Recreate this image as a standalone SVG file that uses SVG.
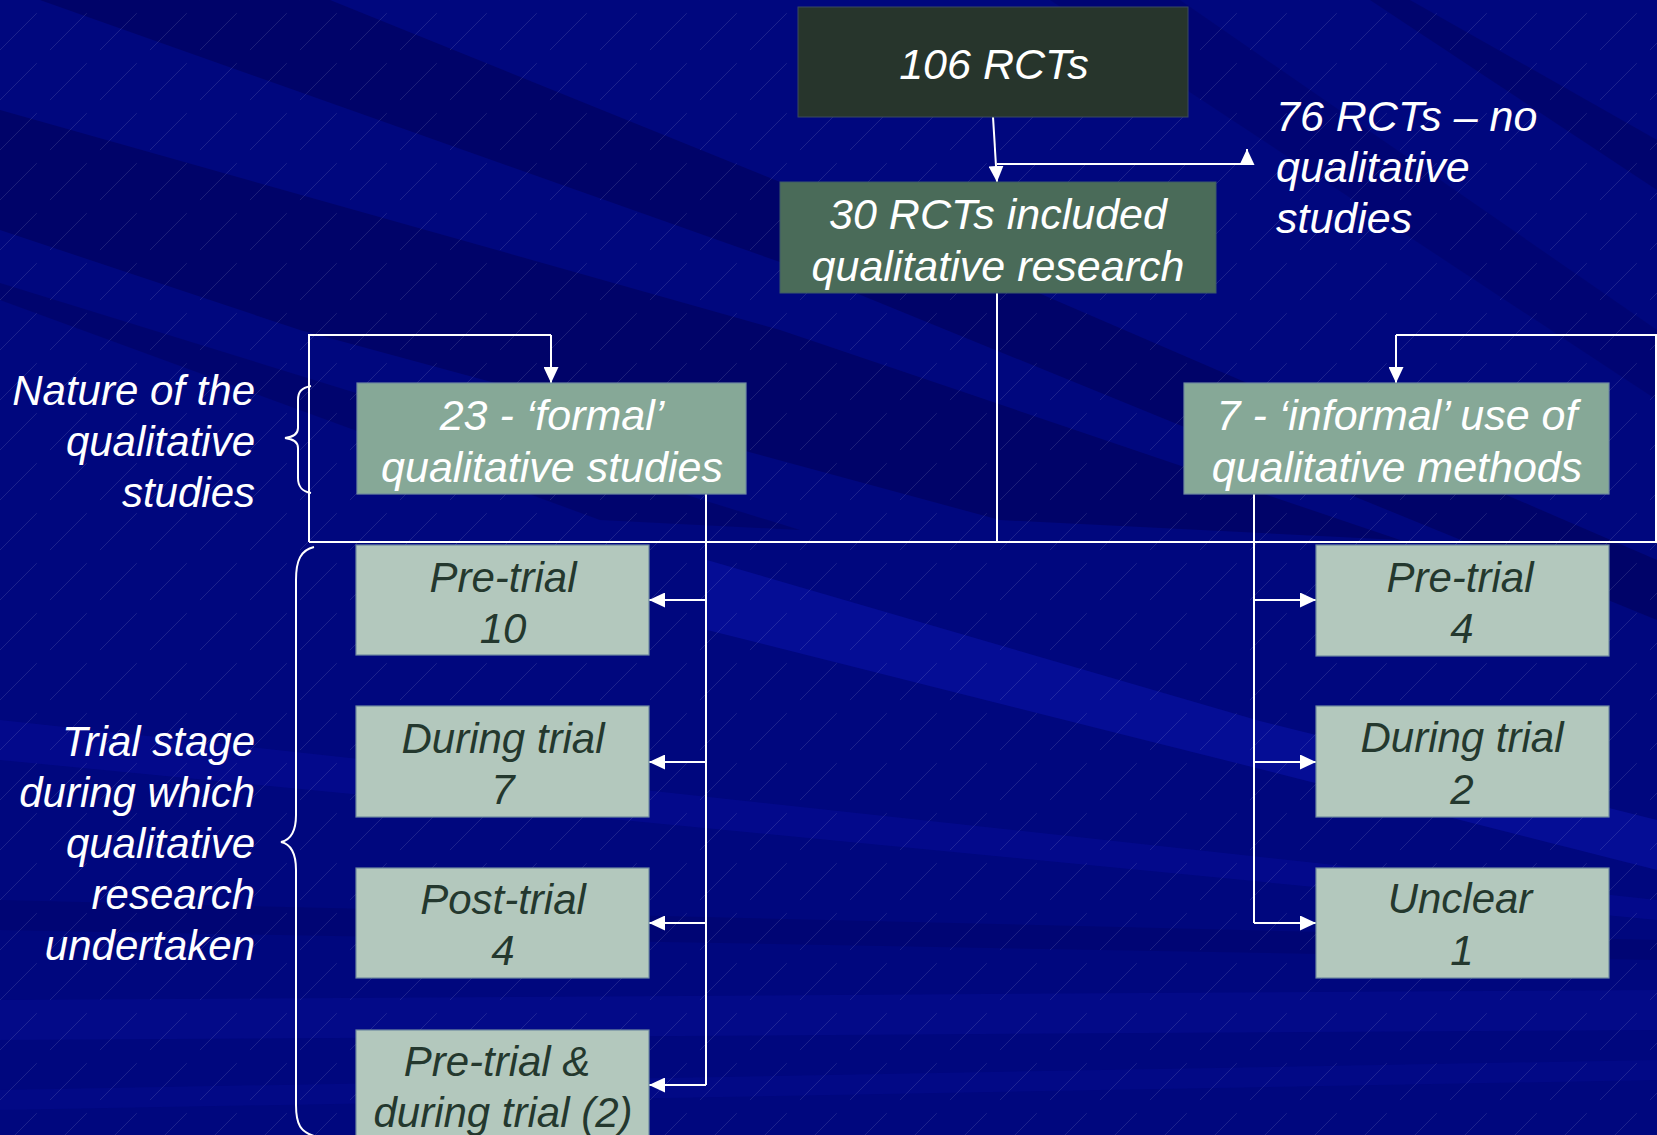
<svg xmlns="http://www.w3.org/2000/svg" width="1657" height="1135" viewBox="0 0 1657 1135">
<defs>
<style>
.t{font-family:"Liberation Sans",Arial,sans-serif;font-style:italic;font-size:42px;}
.big{font-size:43px;}
.w{fill:#ffffff;}
.d{fill:#24382e;}
.c{text-anchor:middle;}
.r{text-anchor:end;}
.ln{fill:none;stroke:#ffffff;stroke-width:2;}
.arr{fill:none;stroke:#ffffff;stroke-width:2;marker-end:url(#ah);}
.br{fill:none;stroke:#ffffff;stroke-width:2;}
.bx{stroke:#6f8aa0;stroke-width:1.2;}
.dk{fill:#000058;}
.lt{fill:#0a12a8;}
</style>
<pattern id="hatch" patternUnits="userSpaceOnUse" width="50" height="50">
<path d="M0,50 L50,0" stroke="#ffffff" stroke-opacity="0.14" stroke-width="0.8" stroke-dasharray="52 18.7"/>
</pattern>
<marker id="ah" markerUnits="userSpaceOnUse" markerWidth="16" markerHeight="15" viewBox="0 0 16 15" refX="16" refY="7.5" orient="auto">
<path d="M0,0 L16,7.5 L0,15 z" fill="#ffffff"/>
</marker>
</defs>
<g id="background">
<rect width="1657" height="1135" fill="#00077e"/>
<polygon class="dk" opacity="0.55" points="40,0 330,0 800,190 1657,560 1657,620 780,262"/>
<polygon class="dk" opacity="0.55" points="0,110 780,330 1400,540 1000,520 300,330 0,230"/>
<polygon class="dk" opacity="0.4" points="0,283 0,300 600,520 800,530"/>
<polygon class="dk" opacity="0.4" points="1370,0 1410,0 1657,140 1657,190"/>
<polygon class="dk" opacity="0.3" points="1050,0 1180,0 1657,330 1657,400"/>
<polygon class="lt" opacity="0.55" points="707,560 1260,721 1657,820 1657,870 1260,769 707,630"/>
<polygon class="lt" opacity="0.3" points="0,720 1657,900 1657,920 0,760"/>
<polygon class="dk" opacity="0.25" points="0,900 1657,940 1657,960 0,930"/>
<polygon class="lt" opacity="0.25" points="0,1000 1657,990 1657,1030 0,1040"/>
<polygon class="lt" opacity="0.2" points="0,1090 1657,1060 1657,1080 0,1110"/>
<rect width="1657" height="1135" fill="url(#hatch)"/>
</g>
<g id="connectors">
<path class="arr" d="M993,117 L997,182"/>
<path class="arr" d="M997,164 H1247 V149"/>
<path class="ln" d="M997,293 V542"/>
<path class="ln" d="M309,542 H1656 V335 H1396"/>
<path class="ln" d="M309,542 V335 H551"/>
<path class="arr" d="M551,335 V383"/>
<path class="arr" d="M1396,335 V383"/>
<path class="ln" d="M706,494 V1085"/>
<path class="arr" d="M706,600 H649"/>
<path class="arr" d="M706,762 H649"/>
<path class="arr" d="M706,923 H649"/>
<path class="arr" d="M706,1085 H649"/>
<path class="ln" d="M1254,494 V923"/>
<path class="arr" d="M1254,600 H1316"/>
<path class="arr" d="M1254,762 H1316"/>
<path class="arr" d="M1254,923 H1316"/>
</g>
<g id="brace-nature">
<path class="br" d="M311,386 C301,388 298,392 298,400 V428 C298,434 293,437 285,438 C293,439 298,442 298,448 V478 C298,486 301,491 311,493"/>
</g>
<g id="brace-stage">
<path class="br" d="M314,547 C301,550 296,560 296,580 V815 C296,832 290,840 281,842 C290,844 296,852 296,870 V1105 C296,1125 301,1132 314,1136"/>
</g>
<g id="label-nature">
<text class="t w r" x="255" y="405">Nature of the</text>
<text class="t w r" x="255" y="456">qualitative</text>
<text class="t w r" x="255" y="507">studies</text>
</g>
<g id="label-stage">
<text class="t w r" x="255" y="756">Trial stage</text>
<text class="t w r" x="255" y="807">during which</text>
<text class="t w r" x="255" y="858">qualitative</text>
<text class="t w r" x="255" y="909">research</text>
<text class="t w r" x="255" y="960">undertaken</text>
</g>
<g id="label-76">
<text class="t big w" x="1276" y="131">76 RCTs – no</text>
<text class="t big w" x="1276" y="182">qualitative</text>
<text class="t big w" x="1276" y="233">studies</text>
</g>
<g id="n106">
<rect x="798" y="7" width="390" height="110" fill="#27352c" stroke="#3a4a60" stroke-width="1"/>
<text class="t big w c" x="994" y="79">106 RCTs</text>
</g>
<g id="n30">
<rect x="780" y="182" width="436" height="111" fill="#4a6b59" stroke="#3d5a6a" stroke-width="1"/>
<text class="t big w c" x="998" y="229">30 RCTs included</text>
<text class="t big w c" x="998" y="281">qualitative research</text>
</g>
<g id="n23">
<rect class="bx" x="357" y="383" width="389" height="111" fill="#86a897"/>
<text class="t big w c" x="552" y="430">23 - ‘formal’</text>
<text class="t big w c" x="552" y="482">qualitative studies</text>
</g>
<g id="n7">
<rect class="bx" x="1184" y="383" width="425" height="111" fill="#86a897"/>
<text class="t big w c" x="1397" y="430">7 - ‘informal’ use of</text>
<text class="t big w c" x="1397" y="482">qualitative methods</text>
</g>
<g id="n-pre-l">
<rect class="bx" x="356" y="545" width="293" height="110" fill="#b3c8bd"/>
<text class="t d c" x="503" y="592">Pre-trial</text>
<text class="t d c" x="503" y="643">10</text>
</g>
<g id="n-during-l">
<rect class="bx" x="356" y="706" width="293" height="111" fill="#b3c8bd"/>
<text class="t d c" x="503" y="753">During trial</text>
<text class="t d c" x="503" y="804">7</text>
</g>
<g id="n-post-l">
<rect class="bx" x="356" y="868" width="293" height="110" fill="#b3c8bd"/>
<text class="t d c" x="503" y="914">Post-trial</text>
<text class="t d c" x="503" y="965">4</text>
</g>
<g id="n-preduring-l">
<rect class="bx" x="356" y="1030" width="293" height="120" fill="#b3c8bd"/>
<text class="t d c" x="497" y="1076">Pre-trial &amp;</text>
<text class="t d c" x="503" y="1127">during trial (2)</text>
</g>
<g id="n-pre-r">
<rect class="bx" x="1316" y="545" width="293" height="111" fill="#b3c8bd"/>
<text class="t d c" x="1460" y="592">Pre-trial</text>
<text class="t d c" x="1462" y="643">4</text>
</g>
<g id="n-during-r">
<rect class="bx" x="1316" y="706" width="293" height="111" fill="#b3c8bd"/>
<text class="t d c" x="1462" y="752">During trial</text>
<text class="t d c" x="1462" y="804">2</text>
</g>
<g id="n-unclear-r">
<rect class="bx" x="1316" y="868" width="293" height="110" fill="#b3c8bd"/>
<text class="t d c" x="1460" y="913">Unclear</text>
<text class="t d c" x="1462" y="965">1</text>
</g>
</svg>
